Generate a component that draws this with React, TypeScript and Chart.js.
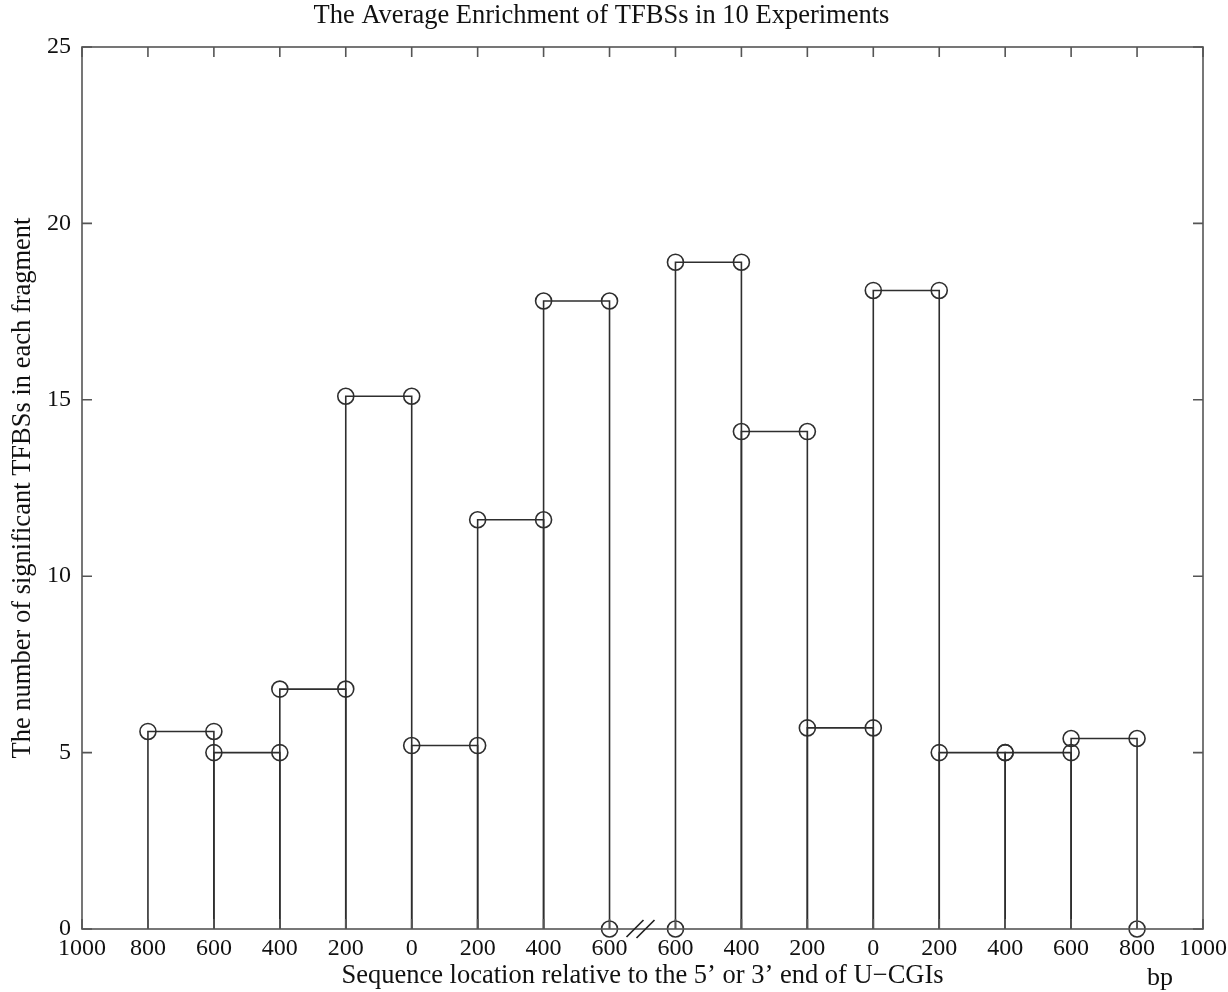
import React, { useEffect, useRef } from "react";
import { Chart, registerables } from "chart.js";

Chart.register(...registerables);

const xTickLabels = ["1000", "800", "600", "400", "200", "0", "200", "400", "600", "600", "400", "200", "0", "200", "400", "600", "800", "1000"];
const binStarts = [1, 2, 3, 4, 5, 6, 7, 9, 10, 11, 12, 13, 14, 15];
const binValues = [5.6, 5.0, 6.8, 15.1, 5.2, 11.6, 17.8, 18.9, 14.1, 5.7, 18.1, 5.0, 5.0, 5.4];
const zeroPointX = [8, 9, 16];
const breakAt = 8.5;
const yTicks = [0, 5, 10, 15, 20, 25];

const FONT = "'Liberation Serif', 'Times New Roman', serif";
const LINE = "#2e2e2e";
const FRAME = "#555555";
const TEXT = "#111111";

const framePlugin = {
  id: "matlabFrame",
  afterDraw(chart: any) {
    const { ctx, chartArea, scales } = chart;
    const { left, right, top, bottom } = chartArea;
    const xs = scales.x;
    const ys = scales.y;
    ctx.save();
    ctx.strokeStyle = FRAME;
    ctx.lineWidth = 1.6;
    ctx.strokeRect(left, top, right - left, bottom - top);
    const tl = 10;
    ctx.beginPath();
    for (let i = 0; i < xTickLabels.length; i++) {
      const px = xs.getPixelForValue(i);
      ctx.moveTo(px, top);
      ctx.lineTo(px, top + tl);
      ctx.moveTo(px, bottom);
      ctx.lineTo(px, bottom - tl);
    }
    for (const v of yTicks) {
      const py = ys.getPixelForValue(v);
      ctx.moveTo(left, py);
      ctx.lineTo(left + tl, py);
      ctx.moveTo(right, py);
      ctx.lineTo(right - tl, py);
    }
    ctx.stroke();
    // axis break mark
    const bx = xs.getPixelForValue(breakAt);
    ctx.strokeStyle = "#222";
    ctx.lineWidth = 1.7;
    ctx.beginPath();
    ctx.moveTo(bx - 16, bottom + 8);
    ctx.lineTo(bx + 1, bottom - 9);
    ctx.moveTo(bx - 6, bottom + 9);
    ctx.lineTo(bx + 12, bottom - 9);
    ctx.stroke();
    // unit label
    ctx.fillStyle = TEXT;
    ctx.font = `26px ${FONT}`;
    ctx.textAlign = "center";
    ctx.textBaseline = "middle";
    ctx.fillText("bp", right - 43, bottom + 49);
    ctx.restore();
  },
};

export default function App() {
  const ref = useRef<HTMLCanvasElement | null>(null);

  useEffect(() => {
    if (!ref.current) return;
    const datasets: any[] = binStarts.map((s, i) => ({
      type: "line",
      data: [
        { x: s, y: 0 },
        { x: s, y: binValues[i] },
        { x: s + 1, y: binValues[i] },
        { x: s + 1, y: 0 },
      ],
      borderColor: LINE,
      borderWidth: 1.6,
      pointRadius: [0, 8, 8, 0],
      pointBorderColor: LINE,
      pointBorderWidth: 1.6,
      pointBackgroundColor: "rgba(0,0,0,0)",
      fill: false,
      tension: 0,
      clip: false,
    }));
    datasets.push({
      type: "scatter",
      data: zeroPointX.map((x) => ({ x, y: 0 })),
      pointRadius: 8,
      pointBorderColor: LINE,
      pointBorderWidth: 1.6,
      pointBackgroundColor: "rgba(0,0,0,0)",
      showLine: false,
      clip: false,
    });

    const chart = new Chart(ref.current, {
      type: "line",
      data: { datasets },
      options: {
        animation: false,
        responsive: false,
        layout: { padding: { left: 0, right: 25, top: 0, bottom: 0 } },
        plugins: {
          legend: { display: false },
          tooltip: { enabled: false },
          title: {
            display: true,
            text: "The Average Enrichment of TFBSs in 10 Experiments",
            color: TEXT,
            font: { family: FONT, size: 26.5, weight: "normal", lineHeight: 1.2 },
            padding: { top: 0, bottom: 15.2 },
          },
        },
        scales: {
          x: {
            type: "linear",
            min: 0,
            max: 17,
            grid: { display: false, drawTicks: false },
            border: { display: false },
            ticks: {
              stepSize: 1,
              autoSkip: false,
              maxRotation: 0,
              padding: 5,
              color: TEXT,
              font: { family: FONT, size: 24 },
              callback: (v: any) => xTickLabels[Math.round(Number(v))] ?? "",
            },
            title: {
              display: true,
              text: "Sequence location relative to the 5\u2019 or 3\u2019 end of U\u2212CGIs",
              color: TEXT,
              font: { family: FONT, size: 26.5 },
              padding: { top: 0, bottom: 0 },
            },
            afterFit: (scale: any) => {
              scale.height = 63;
              scale.paddingLeft = 0;
              scale.paddingRight = 0;
            },
          },
          y: {
            type: "linear",
            min: 0,
            max: 25,
            grid: { display: false, drawTicks: false },
            border: { display: false },
            ticks: {
              stepSize: 5,
              padding: 11,
              color: TEXT,
              font: { family: FONT, size: 24 },
            },
            title: {
              display: true,
              text: "The number of significant TFBSs in each fragment",
              color: TEXT,
              font: { family: FONT, size: 26.5 },
              padding: { top: 7, bottom: 0 },
            },
            afterFit: (scale: any) => {
              scale.width = 82;
              scale.paddingTop = 0;
              scale.paddingBottom = 0;
            },
          },
        },
      },
      plugins: [framePlugin],
    } as any);
    return () => chart.destroy();
  }, []);

  return (
    <div style={{ position: "fixed", left: 0, top: 0, width: 1228, height: 992, background: "#fff" }}>
      <canvas ref={ref} width={1228} height={992} style={{ display: "block" }} />
    </div>
  );
}
